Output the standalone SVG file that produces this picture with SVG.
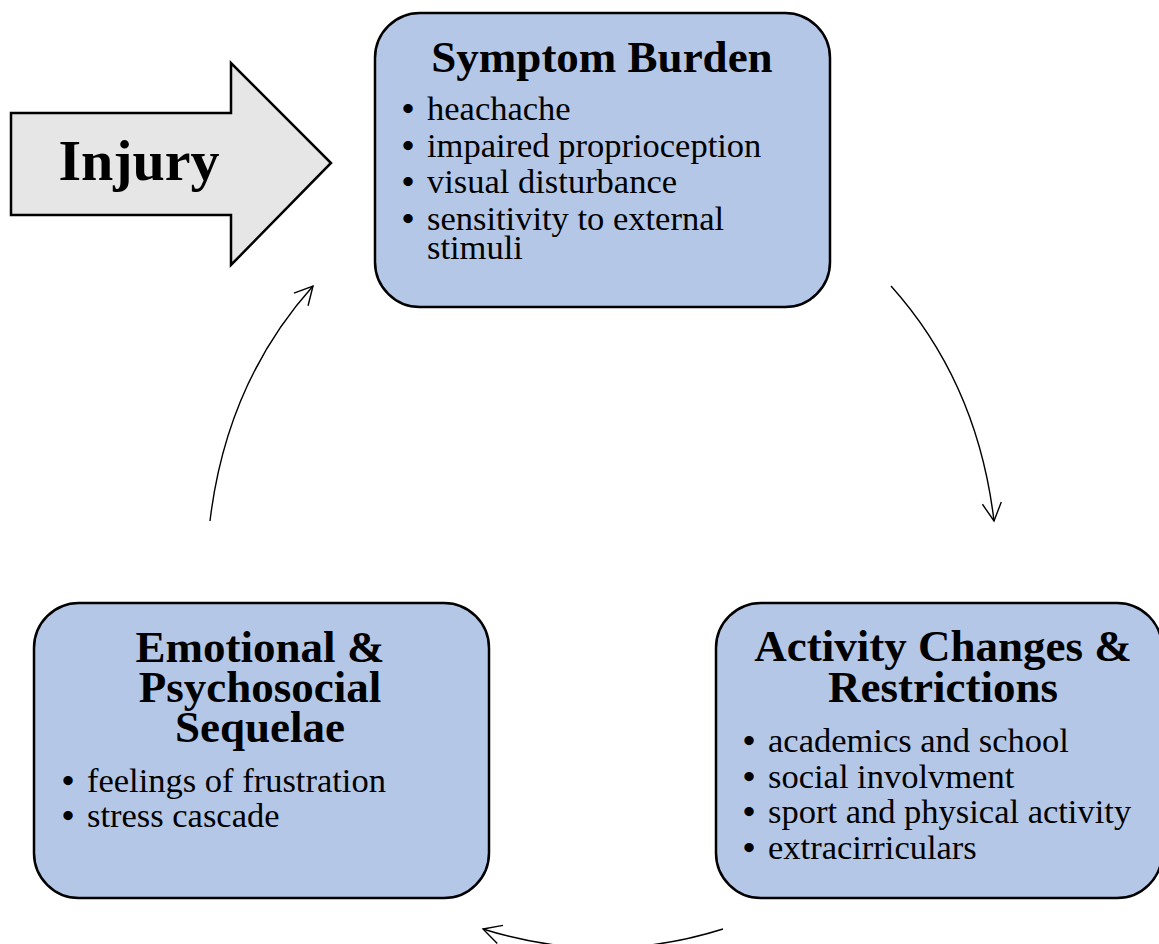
<svg xmlns="http://www.w3.org/2000/svg" width="1159" height="944" viewBox="0 0 1159 944">
<style>
.box{fill:#b4c7e7;stroke:#000;stroke-width:2.5}
.title{font-family:"Liberation Serif","Times New Roman",serif;font-weight:bold;font-size:45px;fill:#000;text-anchor:middle}
.item{font-family:"Liberation Serif","Times New Roman",serif;font-size:34.5px;fill:#000}
.b{font-weight:bold}
.conn{fill:none;stroke:#000;stroke-width:1.4}
</style>
<defs>
<marker id="arr" markerUnits="userSpaceOnUse" viewBox="-22 -12 24 24" markerWidth="24" markerHeight="24" refX="0" refY="0" orient="auto">
<path d="M-18,-9.5 L0,0 L-18,9.5" fill="none" stroke="#000" stroke-width="1.4"/>
</marker>
</defs>
<rect width="1159" height="944" fill="#fff"/>
<g id="injury">
<polygon points="11,113 231,113 231,63 331,163 231,265 231,215 11,215" fill="#e6e6e6" stroke="#000" stroke-width="2.5" stroke-linejoin="miter"/>
<text x="139" y="180" class="title" style="font-size:58px">Injury</text>
</g>
<g id="symptom-burden">
<rect x="375" y="13" width="455" height="294" rx="45" ry="45" class="box"/>
<text x="602" y="72" class="title">Symptom Burden</text>
<text class="item"><tspan x="402" y="120" class="b">•</tspan><tspan x="427" y="120">heachache</tspan></text>
<text class="item"><tspan x="402" y="157" class="b">•</tspan><tspan x="427" y="157">impaired proprioception</tspan></text>
<text class="item"><tspan x="402" y="193" class="b">•</tspan><tspan x="427" y="193">visual disturbance</tspan></text>
<text class="item"><tspan x="402" y="230" class="b">•</tspan><tspan x="427" y="230">sensitivity to external</tspan><tspan x="427" y="259">stimuli</tspan></text>
</g>
<g id="activity-changes">
<rect x="716" y="603" width="446" height="295" rx="45" ry="45" class="box"/>
<text x="943" y="661" class="title">Activity Changes &amp;</text>
<text x="943" y="702" class="title">Restrictions</text>
<text class="item"><tspan x="743" y="752" class="b">•</tspan><tspan x="768" y="752">academics and school</tspan></text>
<text class="item"><tspan x="743" y="788" class="b">•</tspan><tspan x="768" y="788">social involvment</tspan></text>
<text class="item"><tspan x="743" y="823" class="b">•</tspan><tspan x="768" y="823">sport and physical activity</tspan></text>
<text class="item"><tspan x="743" y="859" class="b">•</tspan><tspan x="768" y="859">extracirriculars</tspan></text>
</g>
<g id="emotional-psychosocial">
<rect x="34" y="603" width="455" height="295" rx="45" ry="45" class="box"/>
<text x="260" y="662" class="title">Emotional &amp;</text>
<text x="260" y="702" class="title">Psychosocial</text>
<text x="260" y="742" class="title">Sequelae</text>
<text class="item"><tspan x="62" y="792" class="b">•</tspan><tspan x="87" y="792">feelings of frustration</tspan></text>
<text class="item"><tspan x="62" y="827" class="b">•</tspan><tspan x="87" y="827">stress cascade</tspan></text>
</g>
<g id="connectors">
<path class="conn" d="M891,286 Q977.5,382.5 994,521" marker-end="url(#arr)"/>
<path class="conn" d="M723,929 Q603,967 483,929" marker-end="url(#arr)"/>
<path class="conn" d="M210,521 Q226.5,382.5 313,286" marker-end="url(#arr)"/>
</g>
</svg>
